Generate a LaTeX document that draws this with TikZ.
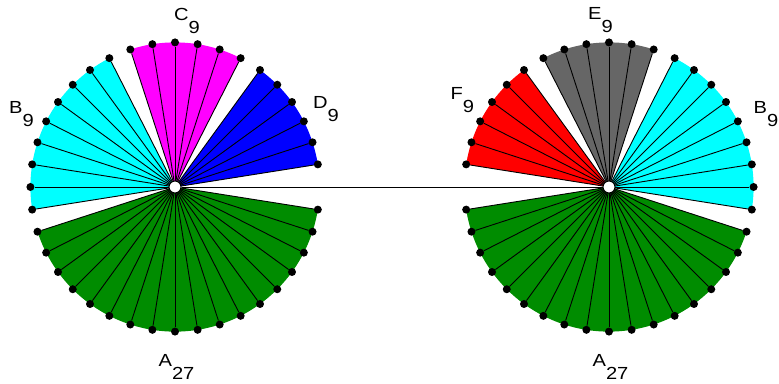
\documentclass[tikz,border=0pt]{standalone}
\usepackage{fontspec}
\setmainfont[FakeStretch=1.15]{Liberation Sans}
\usetikzlibrary{calc}
\definecolor{cGreen}{RGB}{0,140,0}
\definecolor{cCyan}{RGB}{0,255,255}
\definecolor{cMagenta}{RGB}{255,0,255}
\definecolor{cBlue}{RGB}{0,0,255}
\definecolor{cRed}{RGB}{255,0,0}
\definecolor{cGray}{RGB}{102,102,102}
\newcommand{\grplbl}[2]{#1\raisebox{-13pt}{#2}}
\tikzset{
  dotnode/.style={circle,fill=black,inner sep=0pt,minimum size=8pt},
  hubnode/.style={circle,draw=black,fill=white,inner sep=0pt,
                  minimum size=12pt,line width=1pt},
  spoke/.style={line width=0.9pt,color=black},
  lblnode/.style={inner sep=0pt,font=\fontsize{17.5}{21}\selectfont}
}

\begin{document}
\begin{tikzpicture}[x=1pt,y=1pt]
  \useasboundingbox (0,0) rectangle (779,383);
  \def\rad{144.6}

  \coordinate (lc) at (175,196);
  \coordinate (rc) at (609,196);

  % sectors of the left fan
  \fill[cBlue] (lc) -- ++(9:\rad) arc[start angle=9,end angle=54,radius=\rad] -- cycle;
  \fill[cMagenta] (lc) -- ++(63:\rad) arc[start angle=63,end angle=108,radius=\rad] -- cycle;
  \fill[cCyan] (lc) -- ++(117:\rad) arc[start angle=117,end angle=189,radius=\rad] -- cycle;
  \fill[cGreen] (lc) -- ++(198:\rad) arc[start angle=198,end angle=351,radius=\rad] -- cycle;

  % sectors of the right fan
  \fill[cCyan] (rc) -- ++(-9:\rad) arc[start angle=-9,end angle=63,radius=\rad] -- cycle;
  \fill[cGray] (rc) -- ++(72:\rad) arc[start angle=72,end angle=117,radius=\rad] -- cycle;
  \fill[cRed] (rc) -- ++(126:\rad) arc[start angle=126,end angle=171,radius=\rad] -- cycle;
  \fill[cGreen] (rc) -- ++(189:\rad) arc[start angle=189,end angle=342,radius=\rad] -- cycle;

  % spokes
  \foreach \a in {9,18,...,189,198,207,...,351}{
    \node[dotnode] (l\a) at ($(lc)+(\a:\rad)$) {};
    \draw[spoke] (lc) -- (l\a);
  }
  \foreach \a in {-9,0,...,171,189,198,...,342}{
    \node[dotnode] (r\a) at ($(rc)+(\a:\rad)$) {};
    \draw[spoke] (rc) -- (r\a);
  }

  \node[hubnode] (lh) at (lc) {};
  \node[hubnode] (rh) at (rc) {};
  \draw[spoke] (lh) -- (rh);

  % labels
  \node[lblnode] (lA) at (176.5,16) {\grplbl{A}{27}};
  \node[lblnode] (lB) at (21.5,269) {\grplbl{B}{9}};
  \node[lblnode] (lC) at (187,362.5) {\grplbl{C}{9}};
  \node[lblnode] (lD) at (326,273.6) {\grplbl{D}{9}};
  \node[lblnode] (rE) at (600.5,362.5) {\grplbl{E}{9}};
  \node[lblnode] (rF) at (462.4,283) {\grplbl{F}{9}};
  \node[lblnode] (rB) at (766,269) {\grplbl{B}{9}};
  \node[lblnode] (rA) at (610.5,16) {\grplbl{A}{27}};
\end{tikzpicture}
\end{document}
